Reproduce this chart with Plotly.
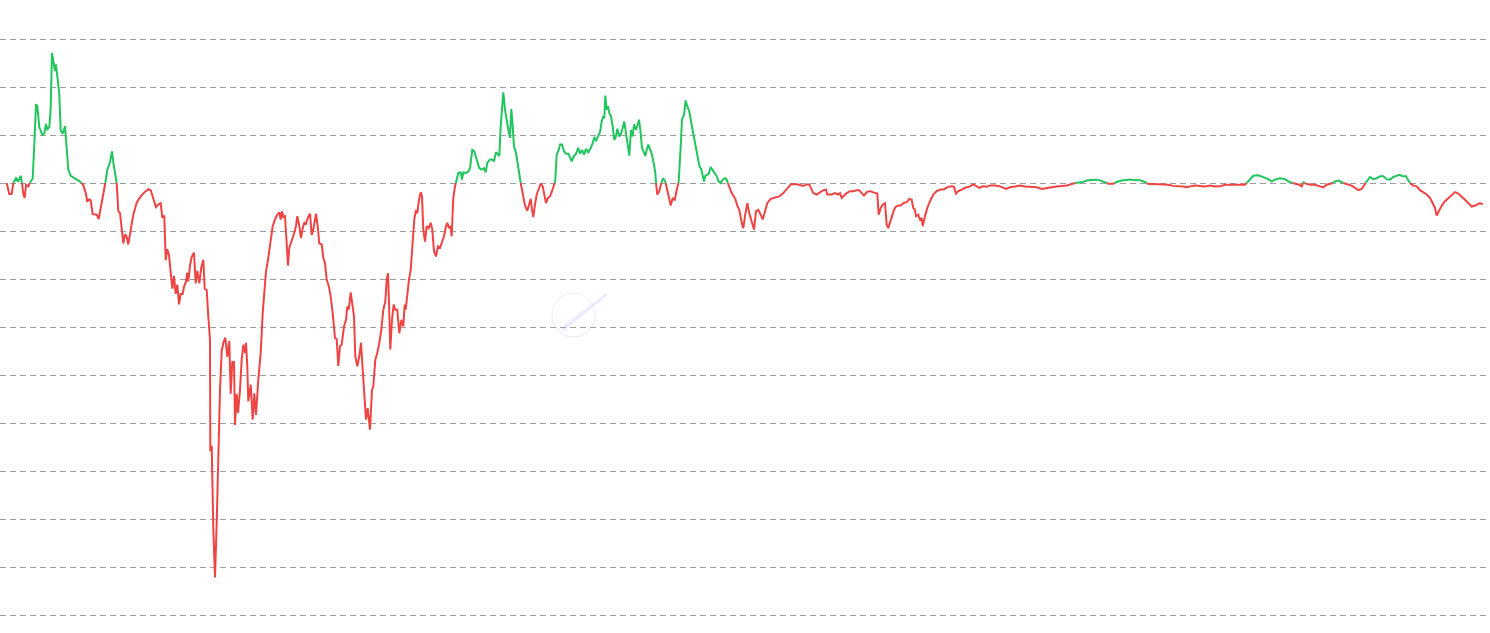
import plotly.graph_objects as go

# ---- data: cumulative return (%) over time index ----
t = [6.7, 9.3, 11.7, 13.3, 16, 18.3, 20.7, 22, 23.3, 24.7, 26, 28.3, 30, 32.7, 34.3, 36, 37.3, 39.3, 42.3, 44.3,
     46, 47.3, 49.3, 50.7, 52, 53.3, 55, 56, 57.3, 59.3, 60.7, 62.7, 65, 66.7, 68.3, 70.7, 75, 80, 83.3, 86,
     87.3, 89.3, 90.7, 92.7, 96.7, 98.7, 100.7, 103.3, 105.3, 107.3, 110, 112, 113.3, 115, 116.7, 118.3, 120, 121.7, 123.3, 125,
     126.7, 128.3, 130.7, 133.3, 136.7, 140, 144, 148.3, 150.7, 153.3, 156, 158.3, 160.7, 162.3, 164.3, 165.7, 167.3, 169, 170.7, 172.3,
     174, 175.7, 177.3, 179, 180.7, 182.7, 184, 186, 187.3, 188.3, 190, 191.7, 194, 195.7, 197.3, 199.3, 201.3, 203.3, 204.7, 206.7,
     208.3, 210, 210.3, 211.7, 213.3, 215, 216.7, 218.3, 220, 221.7, 223.3, 225.3, 227.3, 229.3, 230.7, 232.3, 234, 235, 236.7, 238,
     240, 241.7, 243.3, 245, 246, 247.3, 248.3, 250.7, 252.7, 254.3, 256, 258.3, 260.7, 262.7, 264, 266, 268, 270, 272.7, 275,
     277.3, 279.3, 280.7, 282, 283.3, 285, 286.7, 288, 289.3, 291, 292.7, 294.3, 296, 297.3, 299.3, 301, 302.7, 304.3, 306, 307.7,
     310, 311.7, 313.3, 316, 317.7, 319.3, 321.7, 323.3, 325, 326.7, 328.7, 330.7, 332.7, 335, 336.7, 338.3, 340, 341.7, 344, 346,
     347.3, 348.7, 350.7, 352.3, 354, 355.3, 357.3, 359.3, 361, 362.7, 364.3, 366, 367.7, 370, 372, 373.3, 375.3, 377.3, 379.3, 381.3,
     383.3, 385.3, 386.7, 388, 389, 390.3, 392, 393.7, 395.3, 397.3, 399.3, 401.3, 403.3, 404.7, 405.7, 407.3, 409, 410.7, 412.7, 414.3,
     416, 417.3, 419, 420.7, 422, 423.3, 425, 426.7, 428.7, 430.7, 432.3, 434, 436, 438, 440, 441.7, 444, 446, 447.3, 449,
     450.7, 451.7, 453.3, 455, 456.7, 458.3, 460.7, 462, 463.3, 466, 468.3, 470, 472.3, 474.3, 476.7, 479.3, 481.7, 484, 485.7, 487.3,
     490, 492.3, 494, 496, 497.3, 499.3,
     500.7, 503.3, 505, 506.7, 508.3, 510, 511.3, 512.7, 514, 516, 518.3, 520.7, 522.7, 525, 527.3, 529.3, 530.7, 532, 533.3, 535,
     536.7, 538.7, 540.7, 542.7, 544.3, 546, 548, 550, 552, 554, 555.3, 556.7, 558.7, 560, 562, 564, 566, 568.3, 570, 571.7,
     573.3, 576, 578.3, 580, 582, 584, 586, 588.3, 590.7, 592.7, 594.3, 596, 598, 600, 601.7, 603.3, 604.3, 605.3, 606.7, 608,
     609.3, 611, 612.7, 614.3, 616, 617.3, 619.3, 621.3, 622.7, 624.3, 626, 627.7, 629.3, 631, 632.7, 634, 636, 637.7, 639, 640.3,
     642, 644, 645.3, 646.7, 648.3, 650, 652, 654, 655.3, 656, 657.3, 659.3, 661.3, 663.3, 665.3, 667.3, 669.3, 670.7, 672.7, 674.7,
     676.7, 678.7, 680.7, 682, 684, 685.7, 687.3, 689.3, 691.3, 693.3, 695.3, 697.3, 699.3, 701.3, 702.7, 704, 705.3, 706.7, 708.7, 710.7,
     712.7, 714.7, 716.7, 718.7, 720.7, 722.7, 725, 726.7, 728.3, 730, 731.7, 733.3, 735.3, 737.3, 739.3,
     741.7, 743.3, 745, 747.3, 749.3, 751.7, 754, 756, 758.3, 760.7, 762.7, 765, 767.3, 770.7, 775, 779.3, 783.3, 787.3, 790.7, 794,
     798.3, 803.3, 806.7, 809.3, 810.7, 813.3, 816.7, 820, 823.3, 826, 827.3, 831.7, 835, 838.3, 840, 841.7, 844, 846.7, 850, 853.3,
     856.7, 859.3, 861.7, 864, 866.7, 870, 872.7, 875, 877.3, 878.7, 880.7, 882.7, 885, 886.7, 888.3, 890, 891.7, 894, 896, 898.3,
     900.7, 903.3, 906.7, 909.3, 911.7, 913.3, 915, 916, 918.3, 920, 921.7, 922.7, 925, 927.3, 930, 933.3, 936.7, 940, 944, 948.3,
     951.7, 954, 956, 958.3, 961.7, 965, 970, 973.3, 976.7, 979.3, 982.7, 986.7,
     990, 995, 1000, 1002.7, 1006, 1010, 1015, 1020, 1025, 1030, 1036.7, 1041.7, 1046.7, 1051.7, 1056.7, 1061.7, 1066.7, 1071.7, 1076.7, 1081.7,
     1086.7, 1091.7, 1096, 1100, 1105, 1108.3, 1113.3, 1116.7, 1121.7, 1126.7, 1130, 1135, 1140, 1145, 1148.3, 1153.3, 1158.3, 1163.3, 1168.3, 1173.3,
     1178.3, 1183.3, 1187.3, 1190, 1195, 1200, 1205, 1210, 1215, 1220, 1225, 1230, 1235, 1240, 1245,
     1248.3, 1253.3, 1258.3, 1263.3, 1268.3, 1271.7, 1275, 1280, 1285, 1290, 1295, 1299.3, 1301.7, 1303.3, 1306, 1310, 1315, 1320, 1323.3, 1326.7,
     1331.7, 1335, 1338.3, 1341.7, 1345, 1348.3, 1351.7, 1355, 1358.3, 1361.7, 1364, 1366.7, 1370, 1373.3, 1376.7, 1380, 1383.3, 1386.7, 1390, 1393.3,
     1396.7, 1399.3, 1402.7, 1406, 1408.3, 1410.7, 1413.3, 1416.7, 1420, 1423.3, 1426.7, 1430, 1432.7, 1435, 1436.7, 1439.3, 1441.7, 1445, 1448.3, 1451.7,
     1455, 1458.3, 1461.7, 1465, 1468.3, 1471.7, 1475, 1477.3, 1480, 1482.7]

ret = [0, -2.3, -2.3, 0, 1.0, 0.3, 1.5, 0, -2.3, -3.1, -0.4, -0.7, 0.1, 1.0, 8, 16.4, 16, 11.6, 10.1, 10.3,
       12.3, 11.2, 11.6, 15.6, 27.1, 25.5, 23.3, 24.7, 22.6, 18.5, 10.9, 10.3, 11.8, 8, 2.8, 1.5, 1.0, 0.3, -0.4, -2.3,
       -3.9, -3.4, -3.6, -6.5, -6.6, -7.5, -5.2, -1.5, 0, 2.7, 4.3, 6.6, 4.3, 2.1, 0, -5.8, -6.3, -10.3, -12.6, -10.7,
       -11.2, -12.8, -9.6, -6.6, -4.1, -3.0, -2.0, -1.3, -1.5, -3.0, -5.0, -4.5, -4.2, -7.2, -6.8, -16.1, -13.8, -15.0, -18.7, -22.0,
       -19.4, -23.1, -21.2, -25.3, -23.1, -23.1, -21.6, -20.5, -18.7, -20.5, -17.2, -15.4, -14.5, -20.9, -18.3, -20.9, -17.6, -16, -22, -22.3,
       -27.8, -32.6, -55.9, -54.7, -71.9, -82.2, -70.8, -56.3, -43.1, -35.1, -33.3, -32.2, -36.2, -32.9, -43.9, -37.3, -37.3, -50.4, -43.9, -47.9,
       -43.1, -36.8, -33.7, -35.4, -33.3, -38.2, -45.5, -42, -49.3, -43.8, -48.3, -41, -35.4, -27.1, -22.9, -18.4, -16, -12.5, -9, -7.6,
       -6.6, -6.1, -7.6, -5.9, -7.1, -6.9, -13.2, -17.2, -13.5, -12.5, -11.1, -10.4, -8.9, -6.9, -9, -11.5, -9.4, -8.3, -8.5, -7.3,
       -6.4, -10.8, -9.7, -6.4, -9, -12.6, -12.8, -15.6, -16.7, -20.1, -21.4, -23.6, -27.1, -32.3, -32.5, -38.1, -34, -33.7, -29.9, -28.5,
       -25.7, -26.4, -22.8, -25.7, -27.8, -36.1, -38.2, -36.1, -33.3, -38.9, -44.4, -49.3, -46.9, -51.4, -43.1, -42.4, -36.8, -35.4, -33.3, -30.6,
       -26.4, -24.7, -20.1, -18.8, -25, -34.7, -28.5, -25.3, -26.4, -26.4, -31.3, -28.5, -29.9, -25.3, -26.4, -22.9, -20.1, -18.1, -12.5, -7.6,
       -5.6, -6.3, -3.5, -1.9, -2.8, -9.7, -12.2, -9, -9.4, -8.3, -9.7, -14.2, -15.3, -13.2, -13.5, -12.5, -11.1, -9, -8.3, -9.4,
       -9, -11.1, -3.1, -0.7, 0.7, 2.1, 2.2, 0.7, 2.2, 2.1, 2.4, 3.1, 6.9, 6.6, 4.9, 3.1, 2.8, 3.1, 2.2, 4.2,
       4.9, 4.9, 4.5, 6.4, 6.1, 5.6,
       11.8, 18.9, 15.3, 12.5, 11.1, 9.4, 15.4, 11.8, 7.6, 6.3, 3.5, 0, -2.4, -4.7, -5.8, -4.5, -3.3, -5.6, -7.1, -4.5,
       -2.4, -1.3, -0.1, -0.7, -2.4, -4.2, -3.1, -2.8, -1.7, -0.7, 0.7, 5.9, 6.9, 8, 8, 6.6, 6.1, 6.1, 5.4, 4.5,
       5.4, 6.1, 7.3, 6.1, 6.9, 5.9, 7.1, 6.4, 7.3, 8.3, 9.6, 8.7, 9.7, 10.6, 12.8, 13.9, 13.5, 18.2, 15.3, 16,
       14.6, 13.9, 11.8, 9, 9.7, 11.3, 9.7, 10.4, 11.5, 12.8, 10.4, 8, 5.7, 11.1, 9.7, 12.2, 11.1, 12.2, 13.2, 11.1,
       7.3, 6.4, 5.6, 6.9, 8, 7.1, 5.9, 3.8, 2.1, 0, -2.4, -1.7, 0, 1, 0.3, -1.4, -3.1, -4.7, -3.1, -3.6,
       -1.4, 0.3, 7.6, 13.2, 14.2, 17.2, 16, 14.9, 12.5, 10.1, 7.6, 5.9, 3.6, 2.8, 1.4, 0.3, 1.5, 1.7, 1.9, 3.3,
       2.6, 2.1, 1.4, 0.3, 0, 0.7, 1, 0.7, -0.3, -1, -2.1, -2.6, -3.3, -4.7, -5.6,
       -8.3, -9.4, -6.9, -4.2, -6.3, -8.3, -9.7, -5.9, -5.6, -6.6, -7.6, -5.9, -4.2, -3.3, -3.1, -2.8, -2.1, -1, -0.3, -0.2,
       -0.3, -0.6, -0.3, -0.3, -1, -2.1, -2.4, -1.9, -1.5, -1.4, -2.4, -2.4, -2.1, -2.4, -2.1, -3.1, -2.6, -2.1, -1.7, -1.7,
       -1.5, -1.5, -2.1, -2.6, -1.9, -1.7, -1.9, -2.1, -2.2, -6.6, -5.2, -4.5, -4.2, -8.7, -9.4, -8.2, -6.9, -5.6, -4.9, -4.7,
       -4.7, -4.2, -4, -3.3, -3.5, -5.2, -5.6, -6.9, -6.6, -7.6, -7.3, -9, -6.9, -5.2, -3.8, -2.4, -1.7, -1.4, -1.3, -0.8,
       -0.7, -0.8, -2.2, -1.7, -1.4, -1, -0.7, -0.3, -0.7, -1, -0.7, -0.8,
       -0.5, -0.5, -0.7, -0.9, -1.25, -0.9, -0.7, -0.55, -0.75, -0.75, -0.9, -1.25, -1.0, -0.9, -0.75, -0.7, -0.5, -0.2, 0.07, 0.14,
       0.5, 0.6, 0.7, 0.55, 0.14, -0.14, -0.14, 0.2, 0.5, 0.6, 0.75, 0.6, 0.55, 0.2, -0.2, -0.2, -0.2, -0.35, -0.35, -0.6,
       -0.6, -0.75, -0.9, -0.7, -0.5, -0.6, -0.75, -0.55, -0.75, -0.7, -0.35, -0.35, -0.35, -0.35, -0.35,
       0.35, 1.5, 1.6, 1.25, 0.8, 0.35, 0.7, 1.0, 0.8, 0.14, -0.14, -0.35, -0.7, 0.14, -0.14, -0.35, -0.35, -0.7, -0.9, -0.35,
       -0.14, 0.35, 0.5, 0.14, -0.14, -0.35, -0.55, -1.0, -1.5, -1.25, -0.55, 0.35, 1.25, 0.8, 1.0, 1.4, 1.4, 0.8, 0.7, 1.25,
       1.5, 1.7, 1.4, 1.4, 0.55, -0.14, -0.55, -0.7, -1.5, -1.9, -2.4, -3.1, -4.2, -5.2, -6.8, -5.6, -4.7, -3.8, -3.1, -2.4,
       -1.9, -2.2, -2.8, -3.5, -4.2, -4.9, -4.7, -4.5, -4.2, -4.5]

grid_values = [30, 20, 10, 0, -10, -20, -30, -40, -50, -60, -70, -80, -90]

GREEN = "#22c55e"
RED = "#ef4444"

# insert zero crossings so the colour switches exactly at the baseline
xs, ys = [t[0]], [ret[0]]
for i in range(1, len(t)):
    x0, y0, x1, y1 = t[i - 1], ret[i - 1], t[i], ret[i]
    if (y0 > 0 and y1 < 0) or (y0 < 0 and y1 > 0):
        xc = x0 + (x1 - x0) * (0 - y0) / (y1 - y0)
        xs.append(xc)
        ys.append(0.0)
    xs.append(x1)
    ys.append(y1)

pos = [y if y >= 0 else None for y in ys]
neg = [y if y <= 0 else None for y in ys]

fig = go.Figure()
fig.add_trace(go.Scatter(x=xs, y=neg, mode="lines", line=dict(color=RED, width=2),
                         connectgaps=False, hoverinfo="skip", showlegend=False))
fig.add_trace(go.Scatter(x=xs, y=pos, mode="lines", line=dict(color=GREEN, width=2),
                         connectgaps=False, hoverinfo="skip", showlegend=False))

# faint watermark logo
fig.add_shape(type="circle", xref="paper", yref="paper",
              x0=0.3715, x1=0.4004, y0=0.4788, y1=0.5535,
              line=dict(color="rgba(215,215,225,0.4)", width=1.2), layer="below")
fig.add_shape(type="path", xref="paper", yref="paper",
              path="M 0.3795 0.4890 L 0.4090 0.5500 L 0.4075 0.5530 L 0.3775 0.4950 Z",
              fillcolor="rgba(215,210,248,0.45)", line=dict(width=0), layer="below")

fig.update_layout(
    width=1490, height=633,
    margin=dict(l=0, r=4, t=30, b=14),
    paper_bgcolor="white", plot_bgcolor="white",
    xaxis=dict(range=[0, 1486], showgrid=False, zeroline=False, showticklabels=False,
               showline=False, ticks=""),
    yaxis=dict(range=[-90.8333, 31.875], tickvals=grid_values, showticklabels=False,
               showgrid=True, gridcolor="#9e9e9e", gridwidth=1, griddash="6px,4px",
               zeroline=False, showline=False, ticks=""),
)

fig.write_html("out.html", config={"displayModeBar": False},
               post_script="document.body.style.margin='0px';")
